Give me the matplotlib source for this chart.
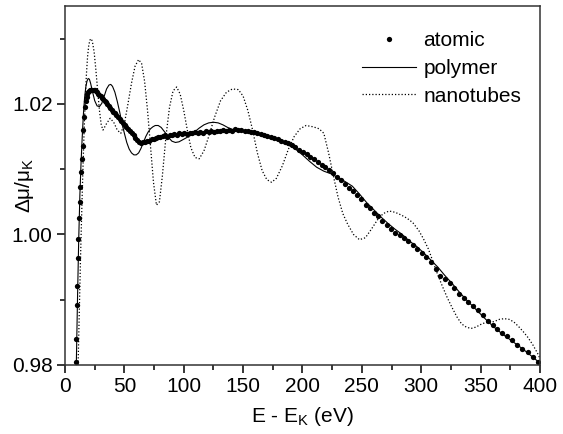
import matplotlib
matplotlib.use("Agg")
import matplotlib.pyplot as plt
from matplotlib.ticker import MultipleLocator

plt.rcParams['font.family'] = ['Liberation Sans', 'DejaVu Sans']
plt.rcParams['mathtext.default'] = 'regular'

# atomic (dots)
atomic_x = [9.0, 9.3, 9.8, 10.3, 10.8, 11.3, 11.8, 12.4, 13.0, 13.6, 14.2, 14.8, 15.4, 16.0, 16.7,
            17.4, 18.1, 18.9, 19.7, 20.5, 21.3, 22.2, 23.1, 24.0, 25.0, 26.0, 27.0, 28.0, 29.0, 30.1,
            31.2, 32.3, 33.4, 34.5, 35.7, 36.9, 38.1, 39.3, 40.6, 41.9, 43.2, 44.5, 45.9, 47.3, 48.7,
            50.1, 51.6, 53.1, 54.6, 56.1, 57.7, 59.3, 60.9, 62.5, 64.2, 65.9, 67.6, 69.3, 71.1, 72.9,
            74.7, 76.5, 78.4, 80.3, 82.2, 84.1, 86.1, 88.1, 90.1, 92.1, 94.2, 96.3, 98.4, 100.5, 102.7,
            104.9, 107.1, 109.3, 111.6, 113.9, 116.2, 118.5, 120.9, 123.3, 125.7, 128.1, 130.6, 133.1,
            135.6, 138.1, 140.7, 143.3, 145.9, 148.5, 151.2, 153.9, 156.6, 159.3, 162.1, 164.9, 167.7,
            170.5, 173.4, 176.3, 179.2, 182.1, 185.1, 188.1, 191.1, 194.1, 197.2, 200.3, 203.4, 206.5,
            209.7, 212.9, 216.1, 219.3, 222.6, 225.9, 229.2, 232.5, 235.9, 239.3, 242.7, 246.1, 249.6,
            253.1, 256.6, 260.1, 263.7, 267.3, 270.9, 274.5, 278.2, 281.9, 285.6, 289.3, 293.0, 296.8,
            300.6, 304.4, 308.3, 312.2, 316.1, 320.0, 323.9, 327.8, 331.8, 335.8, 339.8, 343.8, 347.8,
            351.9, 356.0, 360.1, 364.2, 368.4, 372.6, 376.8, 381.0, 385.3, 389.6, 393.9, 398.2]
atomic_y = [0.9805, 0.9840, 0.9892, 0.9921, 0.9964, 0.9993, 1.0026, 1.0050, 1.0073, 1.0095, 1.0115,
            1.0135, 1.0160, 1.0180, 1.0196, 1.0205, 1.0211, 1.0215, 1.0218, 1.0220, 1.0221, 1.0222,
            1.0222, 1.0222, 1.0221, 1.0220, 1.0218, 1.0216, 1.0214, 1.0212, 1.0209, 1.0207, 1.0205,
            1.0203, 1.0200, 1.0197, 1.0194, 1.0191, 1.0188, 1.0186, 1.0183, 1.0180, 1.0177, 1.0174,
            1.0171, 1.0168, 1.0165, 1.0162, 1.0159, 1.0155, 1.0152, 1.0148, 1.0145, 1.0142, 1.0140,
            1.0141, 1.0142, 1.0143, 1.0144, 1.0146, 1.0147, 1.0148, 1.0150, 1.0149, 1.0151, 1.0152,
            1.0150, 1.0153, 1.0152, 1.0154, 1.0153, 1.0155, 1.0154, 1.0156, 1.0154, 1.0156, 1.0155,
            1.0157, 1.0155, 1.0157, 1.0156, 1.0158, 1.0157, 1.0159, 1.0157, 1.0159, 1.0158, 1.0160,
            1.0159, 1.0160, 1.0159, 1.0161, 1.0160, 1.0160, 1.0159, 1.0159, 1.0157, 1.0157, 1.0155,
            1.0154, 1.0152, 1.0151, 1.0149, 1.0148, 1.0146, 1.0144, 1.0142, 1.0140, 1.0137, 1.0134,
            1.0130, 1.0127, 1.0123, 1.0119, 1.0115, 1.0111, 1.0107, 1.0104, 1.0099, 1.0094, 1.0088,
            1.0083, 1.0077, 1.0071, 1.0066, 1.0060, 1.0054, 1.0045, 1.0040, 1.0033, 1.0028, 1.0021,
            1.0014, 1.0008, 1.0003, 0.9999, 0.9995, 0.9990, 0.9984, 0.9978, 0.9971, 0.9965, 0.9958,
            0.9947, 0.9936, 0.9932, 0.9926, 0.9918, 0.9909, 0.9902, 0.9897, 0.9891, 0.9885, 0.9877,
            0.9868, 0.9861, 0.9855, 0.9849, 0.9844, 0.9838, 0.9831, 0.9825, 0.9820, 0.9813, 0.9805]

# polymer (solid line)
polymer_x = [9.5, 10.5, 11.5, 12.5, 13.5, 14.5, 15.5, 16.5, 17.5, 18.5, 19.5, 20.5, 21.5, 23.0, 25.0,
             27.0, 29.0, 31.0, 33.0, 35.0, 37.0, 38.5, 40.0, 42.0, 44.0, 46.0, 48.0, 50.0, 52.0, 54.0,
             56.0, 58.0, 60.0, 62.0, 64.0, 66.0, 68.0, 70.0, 72.0, 74.0, 76.0, 78.5, 81.0, 84.0, 87.0,
             90.0, 93.0, 96.0, 99.0, 102.0, 105.0, 109.0, 113.0, 117.0, 121.0, 125.0, 129.0, 133.0,
             137.0, 141.0, 146.0, 152.0, 158.0, 164.0, 170.0, 176.0, 182.0, 188.0, 194.0, 200.0, 206.0,
             212.0, 218.0, 224.0, 230.0, 236.0, 242.0, 248.0, 254.0, 260.0, 266.0, 272.0, 278.0, 284.0,
             290.0, 296.0, 302.0, 308.0, 314.0, 320.0, 326.0, 332.0, 338.0, 344.0, 350.0, 356.0, 362.0,
             368.0, 374.0, 380.0, 386.0, 392.0, 398.0]
polymer_y = [0.9800, 0.9900, 0.9990, 1.0060, 1.0110, 1.0150, 1.0185, 1.0210, 1.0226, 1.0235, 1.0239,
             1.0238, 1.0232, 1.0220, 1.0205, 1.0197, 1.0196, 1.0201, 1.0212, 1.0223, 1.0229, 1.0230,
             1.0227, 1.0218, 1.0204, 1.0188, 1.0170, 1.0155, 1.0141, 1.0131, 1.0125, 1.0122, 1.0122,
             1.0125, 1.0132, 1.0141, 1.0150, 1.0157, 1.0162, 1.0165, 1.0167, 1.0167, 1.0164, 1.0157,
             1.0149, 1.0143, 1.0141, 1.0142, 1.0145, 1.0148, 1.0151, 1.0157, 1.0163, 1.0168, 1.0171,
             1.0172, 1.0171, 1.0168, 1.0164, 1.0161, 1.0159, 1.0157, 1.0155, 1.0152, 1.0149, 1.0146,
             1.0142, 1.0137, 1.0131, 1.0122, 1.0112, 1.0103, 1.0097, 1.0093, 1.0087, 1.0081, 1.0074,
             1.0062, 1.0049, 1.0038, 1.0027, 1.0017, 1.0008, 1.0000, 0.9990, 0.9982, 0.9972, 0.9961,
             0.9950, 0.9937, 0.9925, 0.9912, 0.9900, 0.9889, 0.9878, 0.9867, 0.9857, 0.9848, 0.9840,
             0.9832, 0.9824, 0.9815, 0.9806]

# nanotubes (dotted line)
nano_x = [11.0, 12.0, 13.0, 14.0, 15.0, 16.0, 17.0, 18.0, 19.0, 20.0, 21.0, 22.0, 23.0, 24.5, 26.0,
          27.5, 29.0, 30.5, 32.0, 35.0, 38.0, 41.0, 44.0, 47.0, 50.0, 53.0, 56.0, 59.0, 62.0, 64.5,
          67.0, 69.5, 72.0, 74.5, 77.0, 79.5, 82.0, 85.0, 88.0, 91.0, 94.0, 97.0, 100.0, 103.0, 106.0,
          109.5, 113.0, 117.0, 121.0, 126.0, 131.0, 136.0, 141.0, 146.0, 150.0, 154.0, 158.0, 162.0,
          166.0, 170.0, 174.0, 178.0, 183.0, 188.0, 193.0, 198.0, 203.0, 209.0, 214.0, 218.0, 222.0,
          226.0, 230.0, 234.0, 238.0, 243.0, 248.0, 253.0, 258.0, 263.0, 268.0, 273.0, 278.0, 283.0,
          288.0, 293.0, 298.0, 302.0, 306.0, 310.0, 314.0, 318.0, 322.0, 326.0, 330.0, 334.0, 338.0,
          342.0, 346.0, 350.0, 354.0, 358.0, 362.0, 366.0, 370.0, 374.0, 378.0, 382.0, 386.0, 390.0,
          394.0, 398.0, 400.0]
nano_y = [0.9800, 0.9880, 0.9960, 1.0030, 1.0095, 1.0155, 1.0205, 1.0245, 1.0273, 1.0290, 1.0298,
          1.0300, 1.0296, 1.0280, 1.0252, 1.0220, 1.0190, 1.0168, 1.0160, 1.0170, 1.0178, 1.0172,
          1.0160, 1.0155, 1.0170, 1.0200, 1.0232, 1.0258, 1.0268, 1.0262, 1.0235, 1.0190, 1.0135,
          1.0080, 1.0045, 1.0050, 1.0090, 1.0150, 1.0195, 1.0220, 1.0226, 1.0215, 1.0190, 1.0160,
          1.0133, 1.0118, 1.0116, 1.0128, 1.0150, 1.0180, 1.0205, 1.0218, 1.0223, 1.0222, 1.0212,
          1.0190, 1.0160, 1.0125, 1.0098, 1.0084, 1.0080, 1.0086, 1.0105, 1.0130, 1.0150, 1.0162,
          1.0167, 1.0165, 1.0162, 1.0155, 1.0125, 1.0090, 1.0057, 1.0032, 1.0016, 1.0000, 0.9992,
          0.9995, 1.0008, 1.0022, 1.0032, 1.0036, 1.0034, 1.0030, 1.0025, 1.0018, 1.0006, 0.9993,
          0.9978, 0.9958, 0.9938, 0.9920, 0.9903, 0.9888, 0.9874, 0.9863, 0.9858, 0.9856, 0.9858,
          0.9862, 0.9865, 0.9865, 0.9867, 0.9870, 0.9871, 0.9870, 0.9866, 0.9859, 0.9851, 0.9842,
          0.9831, 0.9818, 0.9810]

fig = plt.figure(figsize=(5.63, 4.34), dpi=100)
ax = fig.add_axes([0.1155, 0.159, 0.8435, 0.827])

ax.plot(nano_x, nano_y, color='black', linestyle=(0, (1, 1.6)), linewidth=0.9, label='nanotubes')
ax.plot(polymer_x, polymer_y, color='black', linewidth=0.8, label='polymer')
ax.plot(atomic_x, atomic_y, 'o', color='black', markersize=3.8, markeredgewidth=0, label='atomic')

ax.set_xlim(0, 400)
ax.set_ylim(0.98, 1.035)
ax.xaxis.set_major_locator(MultipleLocator(50))
ax.xaxis.set_minor_locator(MultipleLocator(25))
ax.yaxis.set_major_locator(MultipleLocator(0.02))
ax.yaxis.set_minor_locator(MultipleLocator(0.01))
ax.yaxis.set_major_formatter(matplotlib.ticker.FormatStrFormatter('%.2f'))
ax.tick_params(which='major', direction='out', length=6, width=1.1, labelsize=15, pad=3)
ax.tick_params(which='minor', direction='out', length=3.5, width=1.1)
for s in ax.spines.values():
    s.set_linewidth(1.1)
    s.set_color('#333333')

ax.set_xlabel('E - E$_K$ (eV)', fontsize=15, labelpad=6)
ax.set_ylabel(r'$\Delta\mu/\mu_K$', fontsize=15)
ax.yaxis.set_label_coords(-0.062, 0.5)

h, l = ax.get_legend_handles_labels()
ax.legend(h[::-1], l[::-1], loc='upper right', bbox_to_anchor=(1.0, 0.982), frameon=False,
          fontsize=15, handlelength=2.6, handletextpad=0.35, labelspacing=0.42, numpoints=1,
          borderaxespad=0.5)

fig.savefig('out.png', dpi=100)
